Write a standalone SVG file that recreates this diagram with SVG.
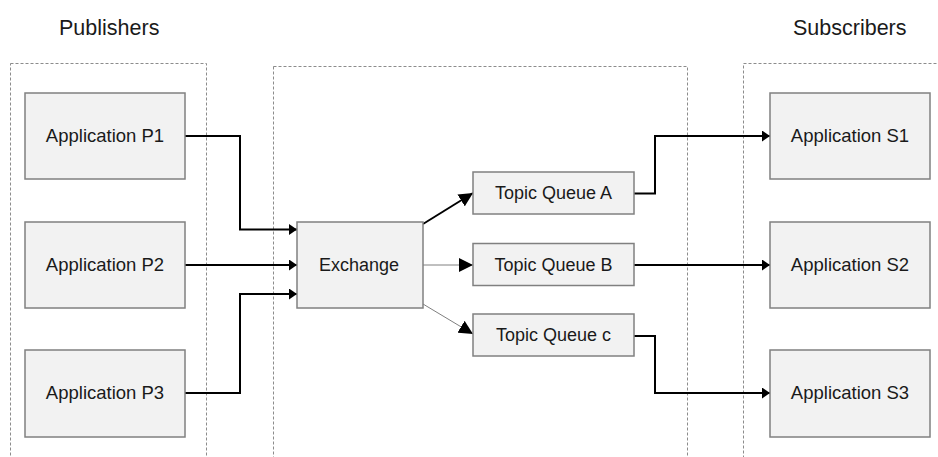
<svg xmlns="http://www.w3.org/2000/svg" width="938" height="457" viewBox="0 0 938 457">
<style>
.grp{fill:none;stroke:#8c8c8c;stroke-width:1;stroke-dasharray:3 2}
.box{fill:#f2f2f2;stroke:#808080;stroke-width:1.5}
.t{font-family:"Liberation Sans",Arial,sans-serif;font-size:18px;fill:#1a1a1a;text-anchor:middle}
.h{font-family:"Liberation Sans",Arial,sans-serif;font-size:21.5px;fill:#1a1a1a}
.c{fill:none;stroke:#000;stroke-width:2}
.cg{fill:none;stroke:#808080;stroke-width:1}
</style>
<defs>
<marker id="as" markerUnits="userSpaceOnUse" markerWidth="8" markerHeight="11" refX="8" refY="5.5" orient="auto"><path d="M0,0 L8,5.5 L0,11 z" fill="#000"/></marker>
<marker id="al" markerUnits="userSpaceOnUse" markerWidth="14" markerHeight="14" refX="14" refY="7" orient="auto"><path d="M0,0 L14,7 L0,14 z" fill="#000"/></marker>
</defs>
<rect width="938" height="457" fill="#fff"/>
<g id="labels">
<text class="h" x="59" y="35">Publishers</text>
<text class="h" x="793" y="35">Subscribers</text>
</g>
<g id="containers">
<rect class="grp" x="10.5" y="63.5" width="196" height="450"/>
<rect class="grp" x="273.5" y="66.5" width="414" height="450"/>
<rect class="grp" x="743.5" y="63.5" width="250" height="450"/>
</g>
<g id="connectors">
<path class="c" d="M185,136 H240 V229.5 H297" marker-end="url(#as)"/>
<path class="c" d="M185,265 H297" marker-end="url(#as)"/>
<path class="c" d="M185,393 H240 V294 H297" marker-end="url(#as)"/>
<path class="c" d="M423,224 L473,193" marker-end="url(#al)"/>
<path class="cg" d="M423,265 H473" marker-end="url(#al)"/>
<path class="cg" d="M423,304 L473,334" marker-end="url(#al)"/>
<path class="c" d="M634,193.5 H655 V136 H770" marker-end="url(#as)"/>
<path class="c" d="M634,265 H770" marker-end="url(#as)"/>
<path class="c" d="M634,336 H655 V393 H770" marker-end="url(#as)"/>
</g>
<g id="p1"><rect class="box" x="25" y="93" width="160" height="86"/><text class="t" x="105" y="142" style="font-size:18.5px">Application P1</text></g>
<g id="p2"><rect class="box" x="25" y="222" width="160" height="86"/><text class="t" x="105" y="271" style="font-size:18.5px">Application P2</text></g>
<g id="p3"><rect class="box" x="25" y="350" width="160" height="87"/><text class="t" x="105" y="399" style="font-size:18.5px">Application P3</text></g>
<g id="exchange"><rect class="box" x="297" y="222" width="126" height="86"/><text class="t" x="359" y="271">Exchange</text></g>
<g id="qa"><rect class="box" x="473" y="172" width="161" height="42"/><text class="t" x="553.5" y="199">Topic Queue A</text></g>
<g id="qb"><rect class="box" x="473" y="243.5" width="161" height="42"/><text class="t" x="553.5" y="271">Topic Queue B</text></g>
<g id="qc"><rect class="box" x="473" y="314" width="161" height="42"/><text class="t" x="553.5" y="341">Topic Queue c</text></g>
<g id="s1"><rect class="box" x="770" y="93" width="160" height="86"/><text class="t" x="850" y="142" style="font-size:18.5px">Application S1</text></g>
<g id="s2"><rect class="box" x="770" y="222" width="160" height="86"/><text class="t" x="850" y="271" style="font-size:18.5px">Application S2</text></g>
<g id="s3"><rect class="box" x="770" y="350" width="160" height="87"/><text class="t" x="850" y="399" style="font-size:18.5px">Application S3</text></g>
</svg>
